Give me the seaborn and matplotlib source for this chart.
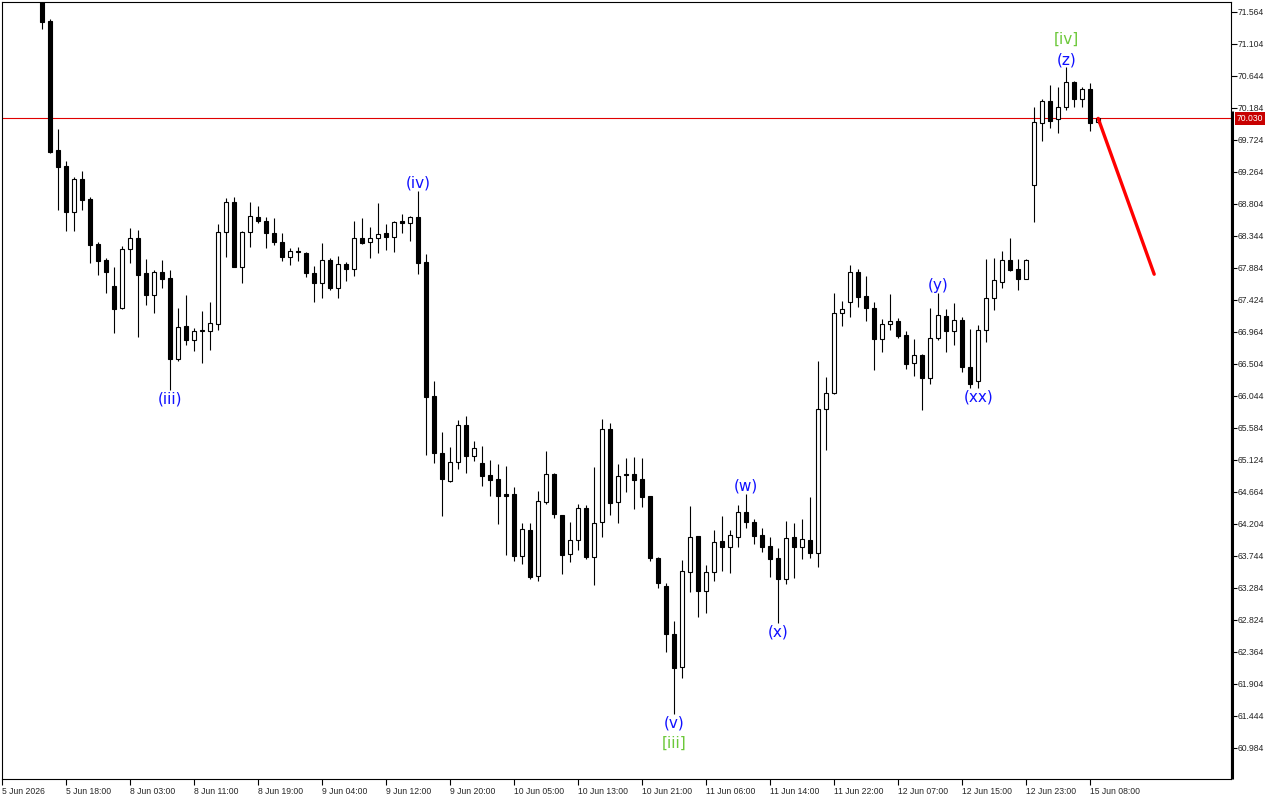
import matplotlib
matplotlib.use("Agg")
import matplotlib.pyplot as plt
import matplotlib.transforms as mtransforms
import numpy as np
import pandas as pd
import seaborn as sns

# ------------------------------------------------------------------------------
# DATA  (H1 bars; first visible bar is bar #5)
# ------------------------------------------------------------------------------

FIRST_BAR = 5

open_ = [
    71.950, 71.435, 69.576, 69.346, 68.689, 69.159, 68.871, 68.225, 67.995, 67.621,
    67.300, 68.148, 68.306, 67.803, 67.491, 67.818, 67.731, 66.571, 67.046, 66.845,
    66.967, 66.978, 67.075, 68.393, 68.833, 67.898, 68.393, 68.617, 68.560, 68.378,
    68.249, 68.042, 68.128, 68.100, 67.803, 67.668, 67.995, 67.596, 67.933, 67.861,
    68.306, 68.249, 68.306, 68.378, 68.329, 68.555, 68.522, 68.608, 67.961, 66.040,
    65.216, 64.822, 65.087, 65.623, 65.181, 65.072, 64.904, 64.846, 64.624, 64.627,
    63.744, 64.113, 63.456, 64.520, 64.918, 64.329, 63.764, 63.965, 64.425, 63.729,
    64.224, 65.561, 64.512, 64.914, 64.914, 64.842, 64.602, 63.707, 63.308, 62.614,
    62.148, 63.514, 64.027, 63.241, 63.514, 63.951, 63.873, 64.017, 64.376, 64.224,
    64.037, 63.883, 63.707, 63.405, 64.008, 63.873, 63.965, 63.787, 65.848, 66.078,
    67.237, 67.386, 67.818, 67.477, 67.300, 66.855, 67.070, 67.118, 66.916, 66.510,
    66.629, 66.303, 66.869, 67.190, 66.978, 67.132, 66.456, 66.259, 66.988, 67.444,
    67.683, 67.990, 67.861, 67.726, 69.073, 69.960, 70.280, 70.017, 70.190, 70.558,
    70.309, 70.448, 69.974,
]

high = [
    72.000, 71.455, 69.878, 69.418, 69.192, 69.274, 68.905, 68.253, 68.028, 67.898,
    68.196, 68.450, 68.425, 68.009, 67.850, 67.994, 67.851, 67.300, 67.491, 67.021,
    67.261, 67.395, 68.512, 68.890, 68.896, 68.410, 68.833, 68.771, 68.617, 68.594,
    68.378, 68.163, 68.177, 68.110, 67.913, 68.243, 68.019, 68.052, 67.962, 68.555,
    68.594, 68.473, 68.810, 68.512, 68.560, 68.656, 68.627, 68.991, 68.081, 66.259,
    65.518, 65.302, 65.695, 65.752, 65.393, 65.321, 65.120, 65.062, 65.033, 64.727,
    64.209, 64.209, 64.674, 65.249, 64.937, 64.330, 64.228, 64.487, 64.473, 65.023,
    65.705, 65.647, 65.062, 65.144, 65.158, 65.144, 64.606, 63.721, 63.356, 62.805,
    63.682, 64.458, 64.030, 63.610, 64.113, 64.315, 64.113, 64.473, 64.631, 64.271,
    64.138, 64.017, 63.850, 64.243, 64.209, 64.267, 64.588, 66.543, 66.317, 67.524,
    67.405, 67.923, 67.865, 67.765, 67.386, 67.146, 67.506, 67.156, 66.974, 66.859,
    66.643, 67.300, 67.524, 67.290, 67.372, 67.171, 67.003, 67.056, 68.009, 68.019,
    68.124, 68.306, 68.004, 68.004, 70.198, 70.309, 70.510, 70.477, 70.765, 70.568,
    70.477, 70.543, 70.040,
]

low = [
    71.315, 69.537, 68.713, 68.416, 68.416, 68.713, 67.956, 67.779, 67.524, 66.941,
    67.290, 67.956, 66.892, 67.348, 67.228, 67.588, 66.126, 66.547, 66.773, 66.691,
    66.518, 66.700, 66.988, 68.042, 67.890, 67.660, 68.186, 68.522, 68.163, 68.210,
    67.985, 67.923, 67.985, 67.755, 67.395, 67.453, 67.563, 67.444, 67.693, 67.765,
    68.220, 68.028, 68.100, 68.139, 68.114, 68.387, 68.272, 67.793, 65.191, 65.081,
    64.315, 64.808, 64.990, 64.937, 65.105, 64.750, 64.602, 64.200, 63.754, 63.672,
    63.625, 63.409, 63.380, 64.491, 64.290, 63.481, 63.653, 63.826, 63.696, 63.323,
    64.017, 64.329, 64.209, 64.664, 64.411, 64.440, 63.672, 63.275, 62.364, 61.464,
    61.981, 63.226, 62.867, 62.916, 63.385, 63.528, 63.491, 63.873, 64.146, 63.908,
    63.801, 63.433, 62.772, 63.337, 63.428, 63.692, 63.707, 63.586, 65.263, 66.070,
    67.046, 67.179, 67.323, 67.122, 66.413, 66.676, 66.988, 66.878, 66.428, 66.327,
    65.838, 66.212, 66.845, 66.676, 66.773, 66.389, 66.159, 66.159, 66.820, 67.276,
    67.588, 67.836, 67.563, 67.717, 68.545, 69.710, 69.896, 69.824, 70.151, 70.198,
    70.198, 69.853, 69.970,
]

close = [
    71.420, 69.551, 69.336, 68.689, 69.159, 68.857, 68.210, 67.985, 67.826, 67.286,
    68.148, 68.306, 67.779, 67.491, 67.818, 67.721, 66.571, 67.027, 66.845, 66.974,
    66.981, 67.093, 68.393, 68.833, 67.898, 68.393, 68.631, 68.560, 68.378, 68.249,
    68.042, 68.128, 68.105, 67.812, 67.668, 67.995, 67.588, 67.933, 67.861, 68.306,
    68.243, 68.306, 68.364, 68.329, 68.545, 68.522, 68.608, 67.956, 66.030, 65.225,
    64.842, 65.087, 65.618, 65.181, 65.288, 64.894, 64.836, 64.606, 64.609, 63.744,
    64.123, 63.442, 64.530, 64.918, 64.348, 63.754, 63.965, 64.425, 63.729, 64.209,
    65.561, 64.497, 64.890, 64.904, 64.828, 64.592, 63.715, 63.347, 62.614, 62.134,
    63.528, 64.008, 63.241, 63.514, 63.945, 63.873, 64.037, 64.376, 64.224, 64.031,
    63.873, 63.701, 63.405, 63.994, 63.873, 63.979, 63.787, 65.848, 66.078, 67.228,
    67.286, 67.818, 67.467, 67.309, 66.855, 67.070, 67.113, 66.906, 66.504, 66.629,
    66.303, 66.869, 67.200, 66.978, 67.132, 66.461, 66.212, 66.988, 67.444, 67.703,
    67.990, 67.851, 67.726, 67.995, 69.974, 70.280, 69.997, 70.190, 70.549, 70.309,
    70.448, 69.968, 70.030,
]

time_labels = [
    "5 Jun 2026", "5 Jun 18:00", "8 Jun 03:00", "8 Jun 11:00", "8 Jun 19:00",
    "9 Jun 04:00", "9 Jun 12:00", "9 Jun 20:00", "10 Jun 05:00", "10 Jun 13:00",
    "10 Jun 21:00", "11 Jun 06:00", "11 Jun 14:00", "11 Jun 22:00", "12 Jun 07:00",
    "12 Jun 15:00", "12 Jun 23:00", "15 Jun 08:00",
]

price_ticks = [
    71.564, 71.104, 70.644, 70.184, 69.724, 69.264, 68.804, 68.344, 67.884, 67.424,
    66.964, 66.504, 66.044, 65.584, 65.124, 64.664, 64.204, 63.744, 63.284, 62.824,
    62.364, 61.904, 61.444, 60.984,
]

last_price = 70.030

# forecast arrow drawn from the last bar
forecast_bar = [137, 144]
forecast_price = [70.030, 67.790]

# Elliott wave labels, anchored to a bar's high or low
wave_bar = [21, 52, 84, 84, 93, 97, 117, 122, 133, 133]
wave_text = ["(iii)", "(iv)", "(v)", "[iii]", "(w)", "(x)", "(y)", "(xx)", "(z)", "[iv]"]
wave_side = ["low", "high", "low", "low", "high", "low", "high", "low", "high", "high"]
wave_degree = ["minor", "minor", "minor", "major", "minor", "minor", "minor", "minor", "minor", "major"]

WAVE_COLORS = {"minor": "#1010ff", "major": "#6cc83a"}

# ------------------------------------------------------------------------------
# PLOT
# ------------------------------------------------------------------------------

sns.set_theme(style="white")
plt.rcParams["font.family"] = ["Liberation Sans", "DejaVu Sans"]

df = pd.DataFrame({"open": open_, "high": high, "low": low, "close": close})
df["bar"] = FIRST_BAR + np.arange(len(df))
up = df["close"] >= df["open"]

fig = plt.figure(figsize=(12.8, 8), dpi=100)
ax = fig.add_axes([2 / 1280, 21 / 800, 1229 / 1280, 777 / 800])

# wicks, then bodies on top
ax.vlines(df["bar"], df["low"], df["high"], color="black", linewidth=0.8, zorder=2)
ax.bar(df.loc[up, "bar"], (df["close"] - df["open"])[up], bottom=df.loc[up, "open"],
       width=0.55, facecolor="white", edgecolor="black", linewidth=0.8, zorder=3)
ax.bar(df.loc[~up, "bar"], (df["open"] - df["close"])[~up], bottom=df.loc[~up, "close"],
       width=0.55, facecolor="black", edgecolor="black", linewidth=0.8, zorder=3)

# bid line and forecast
ax.axhline(last_price, color="#e00000", linewidth=0.8, zorder=1)
sns.lineplot(x=forecast_bar, y=forecast_price, color="#ff0000", linewidth=2.4, ax=ax, zorder=4)

# wave labels
stack = {}
for bar, text, side, degree in zip(wave_bar, wave_text, wave_side, wave_degree):
    row = df.loc[df["bar"] == bar].iloc[0]
    level = stack.get((bar, side), 0)
    stack[(bar, side)] = level + 1
    if side == "low":
        y, dy, va = row["low"], -1 - 14.5 * level, "top"
    else:
        y, dy, va = row["high"], 0 + 14.5 * level, "bottom"
    ax.annotate(text, xy=(bar, y), xytext=(0, dy), textcoords="offset points",
                ha="center", va=va, fontsize=11, family="DejaVu Sans",
                color=WAVE_COLORS[degree], zorder=5)

ax.set_xlim(0, 153.6)
ax.set_ylim(60.534, 71.703)

# time axis
ax.set_xticks(np.arange(len(time_labels)) * 8)
ax.set_xticklabels(time_labels, ha="left")
ax.tick_params(axis="x", direction="out", length=4, width=0.8, color="black",
               labelsize=6.2, pad=2, bottom=True)

# price axis on the right
ax.yaxis.tick_right()
ax.set_yticks(price_ticks)
ax.set_yticklabels([f"{p:.3f}" for p in price_ticks])
ax.tick_params(axis="y", direction="out", length=4, width=0.8, color="black",
               labelsize=6.2, pad=1, right=True, left=False)

for spine in ax.spines.values():
    spine.set_visible(True)
    spine.set_color("black")
    spine.set_linewidth(0.8)

trans = mtransforms.blended_transform_factory(ax.transAxes, ax.transData)
ax.plot([1.0012, 1.0012], [70.14, 60.534], transform=trans, color="black",
        linewidth=2.2, clip_on=False, solid_capstyle="butt", zorder=6)

ax.annotate(f"{last_price:.3f}", xy=(1.0, last_price), xycoords=trans,
            xytext=(4, 0), textcoords="offset points", ha="left", va="center",
            fontsize=6.2, color="white", annotation_clip=False,
            bbox=dict(boxstyle="square,pad=0.2", facecolor="#c80000", edgecolor="none"))

ax.set_xlabel("")
ax.set_ylabel("")

fig.savefig("out.png", dpi=100)
